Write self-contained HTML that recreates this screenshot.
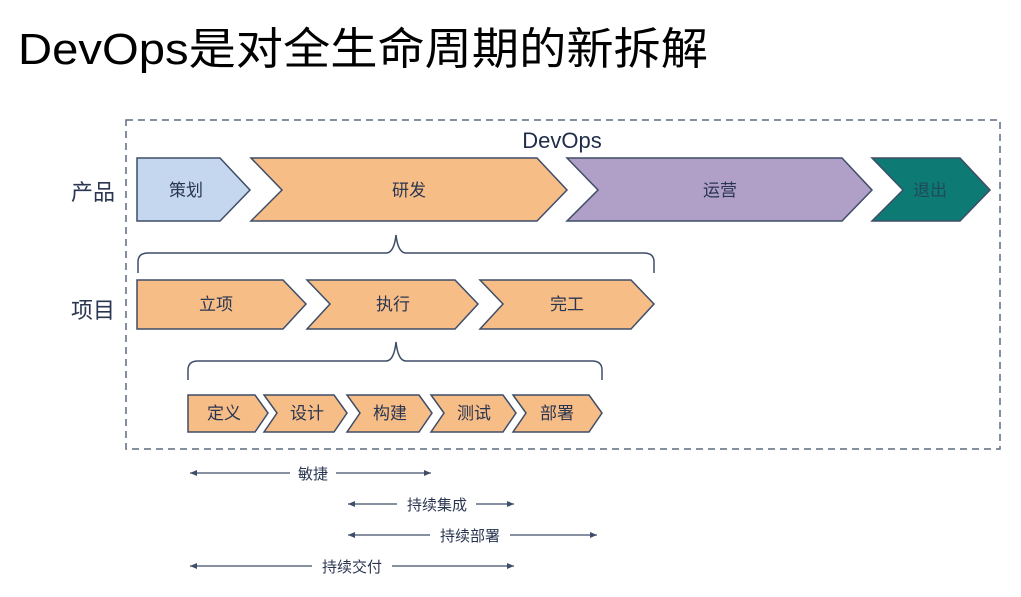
<!DOCTYPE html>
<html><head><meta charset="utf-8"><style>
html,body{margin:0;padding:0;background:#fff;}
svg{display:block;}
text{font-family:"Liberation Sans","Noto Sans CJK SC",sans-serif;}
</style></head><body>
<svg width="1021" height="597" viewBox="0 0 1021 597" xmlns="http://www.w3.org/2000/svg">
<defs>
<marker id="ah" markerWidth="8" markerHeight="8" refX="7" refY="4" orient="auto-start-reverse" markerUnits="userSpaceOnUse">
<path d="M0,1 L7,4 L0,7 Z" fill="#3e4d68"/></marker>
</defs>
<text x="18" y="64" font-size="44" textLength="690" lengthAdjust="spacingAndGlyphs" fill="#000">DevOps是对全生命周期的新拆解</text>
<rect x="126" y="120" width="874" height="329" fill="none" stroke="#5c6b80" stroke-width="1.5" stroke-dasharray="7,5"/>
<text x="562" y="148" font-size="22" text-anchor="middle" fill="#1f2d4a">DevOps</text>
<g font-size="22" fill="#2a3550">
<text x="71" y="200">产品</text>
<text x="71" y="318">项目</text>
</g>
<g stroke="#3e4d68" stroke-width="1.5">
<polygon points="137,158 220,158 250,190 220,221 137,221" fill="#c5d6ef"/>
<polygon points="251,158 537,158 567,190 537,221 251,221 282,190" fill="#f7bd87"/>
<polygon points="567,158 842,158 872,190 842,221 567,221 598,190" fill="#b0a0c8"/>
<polygon points="872,158 960,158 990,190 960,221 872,221 903,190" fill="#0e7a74"/>
<polygon points="137,280 283,280 306,304 283,329 137,329" fill="#f7bd87"/>
<polygon points="307,280 455,280 478,304 455,329 307,329 330,304" fill="#f7bd87"/>
<polygon points="480,280 631,280 654,304 631,329 480,329 503,304" fill="#f7bd87"/>
<polygon points="188,395 255,395 268,413 255,432 188,432" fill="#f7bd87"/>
<polygon points="264,395 334,395 347,413 334,432 264,432 277,413" fill="#f7bd87"/>
<polygon points="347,395 419,395 432,413 419,432 347,432 360,413" fill="#f7bd87"/>
<polygon points="431,395 503,395 516,413 503,432 431,432 444,413" fill="#f7bd87"/>
<polygon points="513,395 589,395 602,413 589,432 513,432 526,413" fill="#f7bd87"/>
</g>
<g fill="none" stroke="#3e4d68" stroke-width="1.5">
<path d="M138,273 L138,262 Q138,253 148,253 L386,253 Q394,253 396,235 Q398,253 406,253 L644,253 Q654,253 654,262 L654,273"/>
<path d="M188,380 L188,370 Q188,361 198,361 L386,361 Q394,361 396,342 Q398,361 406,361 L592,361 Q602,361 602,370 L602,380"/>
</g>
<g font-size="17" fill="#2a3550" text-anchor="middle">
<text x="186" y="196">策划</text>
<text x="409" y="196">研发</text>
<text x="720" y="196">运营</text>
<text x="930" y="196" fill="#1e4a5a">退出</text>
<text x="216" y="310">立项</text>
<text x="393" y="310">执行</text>
<text x="567" y="310">完工</text>
<text x="224" y="419">定义</text>
<text x="307" y="419">设计</text>
<text x="390" y="419">构建</text>
<text x="474" y="419">测试</text>
<text x="557" y="419">部署</text>
</g>
<g stroke="#3e4d68" stroke-width="1.3" fill="none">
<line x1="190" y1="473" x2="290" y2="473" marker-start="url(#ah)"/>
<line x1="336" y1="473" x2="431" y2="473" marker-end="url(#ah)"/>
<line x1="348" y1="504" x2="397" y2="504" marker-start="url(#ah)"/>
<line x1="476" y1="504" x2="514" y2="504" marker-end="url(#ah)"/>
<line x1="348" y1="535" x2="430" y2="535" marker-start="url(#ah)"/>
<line x1="510" y1="535" x2="597" y2="535" marker-end="url(#ah)"/>
<line x1="190" y1="566" x2="312" y2="566" marker-start="url(#ah)"/>
<line x1="392" y1="566" x2="514" y2="566" marker-end="url(#ah)"/>
</g>
<g font-size="15" fill="#2a3550" text-anchor="middle">
<text x="313" y="479">敏捷</text>
<text x="437" y="510">持续集成</text>
<text x="470" y="541">持续部署</text>
<text x="352" y="572">持续交付</text>
</g>
</svg>
</body></html>
